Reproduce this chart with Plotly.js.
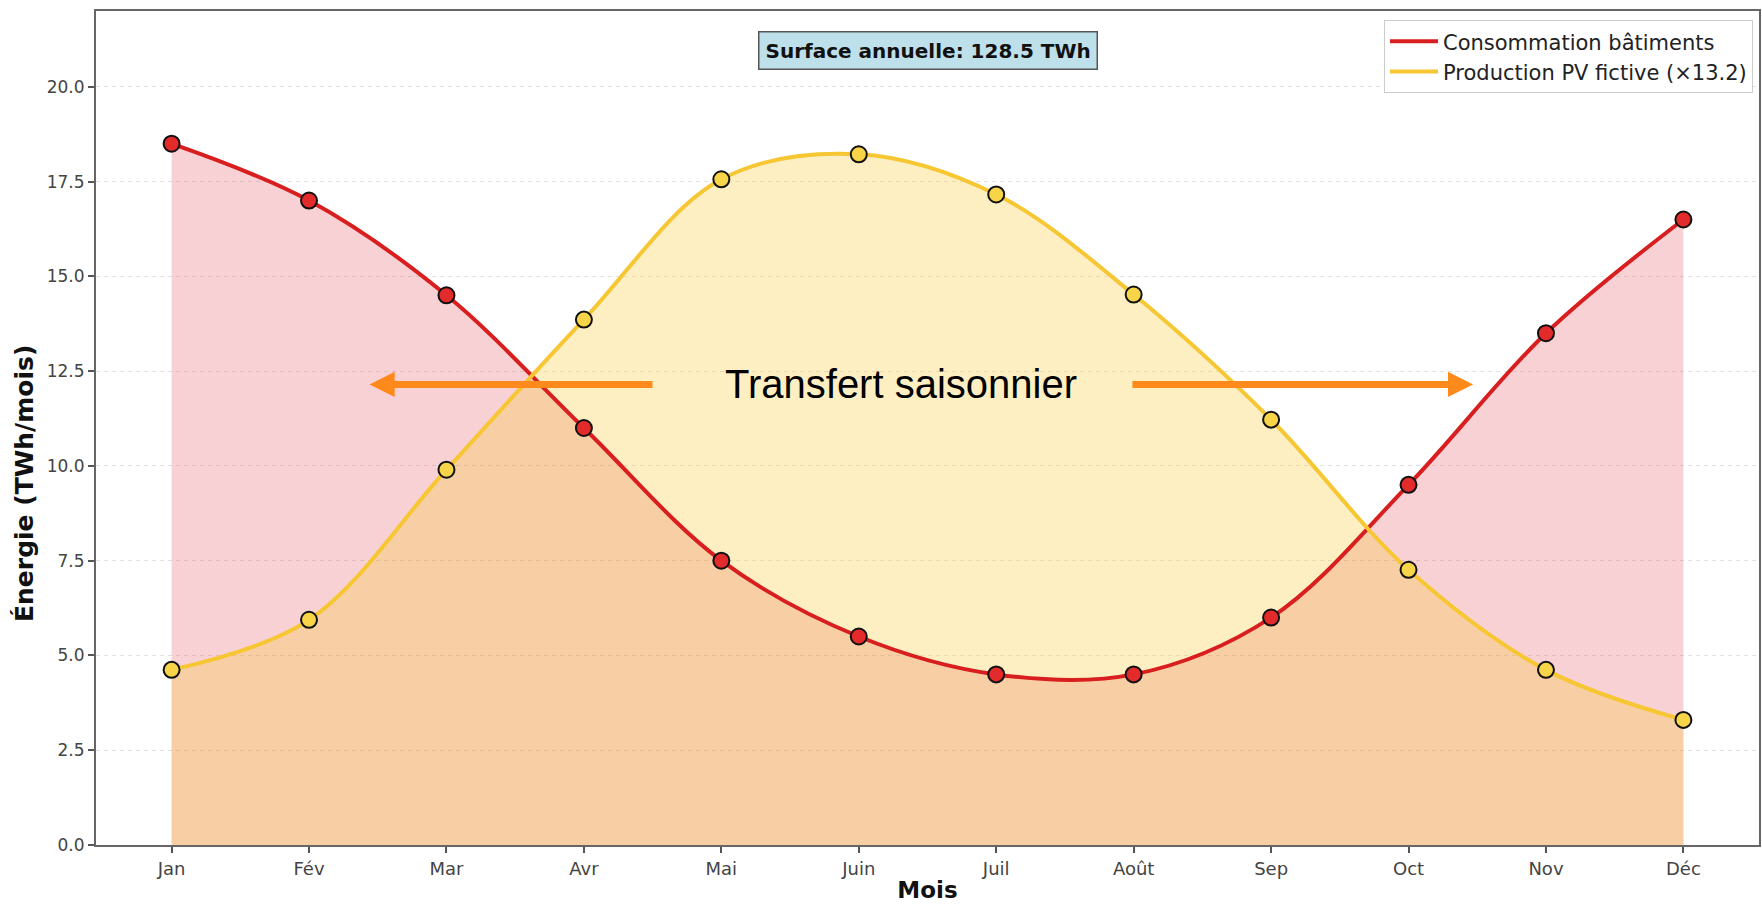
<!DOCTYPE html>
<html lang="fr">
<head>
<meta charset="utf-8">
<title>Consommation des bâtiments et production PV</title>
<script src="https://cdn.plot.ly/plotly-3.0.1.min.js"></script>
<style>
  html, body { margin: 0; padding: 0; background: #ffffff; }
  #chart { width: 1762px; height: 905px; }
</style>
</head>
<body>
<div id="chart"></div>
<script>
// Mois de l'année
const months = ["Jan", "Fév", "Mar", "Avr", "Mai", "Juin", "Juil", "Août", "Sep", "Oct", "Nov", "Déc"];

// Consommation mensuelle des bâtiments (TWh/mois)
const consumption = [18.5, 17.0, 14.5, 11.0, 7.5, 5.5, 4.5, 4.5, 6.0, 9.5, 13.5, 16.5];

// Production PV fictive, mise à l'échelle (×13.2) (TWh/mois)
const pvScaled = [4.62, 5.94, 9.90, 13.86, 17.56, 18.22, 17.16, 14.52, 11.22, 7.26, 4.62, 3.30];

// Libellés
const consumptionName = "Consommation bâtiments";
const pvName = "Production PV fictive (×13.2)";
const annualText = "Surface annuelle: 128.5 TWh";
const transferText = "Transfert saisonnier";
const xTitle = "Mois";
const yTitle = "Énergie (TWh/mois)";

// Flèches du transfert saisonnier : [queue, pointe] sur l'axe des mois, à hauteur fixe
const arrowLeft = [3.51, 1.44];
const arrowRight = [6.98, 9.47];
const arrowLevel = 12.15;
const transferPos = [5.31, 12.15];

const RED = "#d81e1e";
const RED_MARK = "#e32b2b";
const GOLD = "#f6c633";
const GOLD_MARK = "#f8d548";

const xs = months.map((_, i) => i);

const traces = [
  // zones remplies sous les courbes
  {
    x: xs, y: consumption, type: "scatter", mode: "lines",
    line: { shape: "spline", smoothing: 1.0, width: 0, color: "rgba(0,0,0,0)" },
    fill: "tozeroy", fillcolor: "rgba(220,40,55,0.21)",
    showlegend: false, hoverinfo: "skip"
  },
  {
    x: xs, y: pvScaled, type: "scatter", mode: "lines",
    line: { shape: "spline", smoothing: 1.0, width: 0, color: "rgba(0,0,0,0)" },
    fill: "tozeroy", fillcolor: "rgba(248,200,45,0.29)",
    showlegend: false, hoverinfo: "skip"
  },
  // courbes
  {
    x: xs, y: consumption, type: "scatter", mode: "lines", name: consumptionName,
    line: { shape: "spline", smoothing: 1.0, width: 4, color: RED }
  },
  {
    x: xs, y: pvScaled, type: "scatter", mode: "lines", name: pvName,
    line: { shape: "spline", smoothing: 1.0, width: 4, color: GOLD }
  },
  // points mensuels
  {
    x: xs, y: consumption, type: "scatter", mode: "markers", showlegend: false,
    marker: { size: 16, color: RED_MARK, line: { color: "#111111", width: 2 } }
  },
  {
    x: xs, y: pvScaled, type: "scatter", mode: "markers", showlegend: false,
    marker: { size: 16, color: GOLD_MARK, line: { color: "#111111", width: 2 } }
  }
];

function arrow(pair) {
  return {
    x: pair[1], y: arrowLevel, ax: pair[0], ay: arrowLevel,
    xref: "x", yref: "y", axref: "x", ayref: "y",
    text: "", showarrow: true,
    arrowhead: 2, arrowsize: 0.72, arrowwidth: 7, arrowcolor: "#ff8a1c"
  };
}

const layout = {
  width: 1762, height: 905,
  margin: { l: 96, r: 3, t: 11, b: 60 },
  paper_bgcolor: "#ffffff",
  plot_bgcolor: "#ffffff",
  font: { family: "DejaVu Sans, sans-serif", color: "#333333" },
  showlegend: true,
  legend: {
    x: 0.9964, y: 0.989, xanchor: "right", yanchor: "top",
    bgcolor: "rgba(255,255,255,0.9)", bordercolor: "#cccccc", borderwidth: 1,
    font: { size: 21, color: "#222222", family: "DejaVu Sans, sans-serif" },
    itemwidth: 48, tracegroupgap: 2
  },
  xaxis: {
    range: [-0.55, 11.55],
    tickmode: "array", tickvals: xs, ticktext: months,
    tickfont: { size: 18, color: "#444444" },
    ticks: "outside", ticklen: 6, tickwidth: 1.5, tickcolor: "#555555",
    showgrid: false, zeroline: false,
    showline: true, mirror: true, linecolor: "#666666", linewidth: 2,
    title: { text: "<b>" + xTitle + "</b>", font: { size: 23, color: "#111111" }, standoff: 4 },
    automargin: false
  },
  yaxis: {
    range: [0, 22],
    tick0: 0, dtick: 2.5, tickformat: ".1f",
    tickfont: { size: 17, color: "#444444" },
    ticks: "outside", ticklen: 6, tickwidth: 1.5, tickcolor: "#555555",
    showgrid: true, gridcolor: "#e2e2e2", gridwidth: 1, griddash: "4px,4px",
    zeroline: false,
    showline: true, mirror: true, linecolor: "#666666", linewidth: 2,
    automargin: false
  },
  annotations: [
    {
      // titre de l'axe vertical
      x: -0.0426, y: 0.433, xref: "paper", yref: "paper",
      xanchor: "center", yanchor: "middle", textangle: -90,
      text: "<b>" + yTitle + "</b>", showarrow: false,
      font: { size: 25, color: "#111111", family: "DejaVu Sans, sans-serif" }
    },
    {
      x: 0.5, y: 0.9525, xref: "paper", yref: "paper",
      xanchor: "center", yanchor: "middle",
      text: "<b>" + annualText + "</b>", showarrow: false,
      font: { size: 20, color: "#111111", family: "DejaVu Sans, sans-serif" },
      bgcolor: "rgba(173,216,230,0.8)", bordercolor: "#555555", borderwidth: 1.5, borderpad: 6
    },
    {
      x: transferPos[0], y: transferPos[1], xref: "x", yref: "y",
      xanchor: "center", yanchor: "middle",
      text: transferText, showarrow: false,
      font: { size: 40, color: "#000000", family: "Liberation Sans, Arial, sans-serif" }
    },
    arrow(arrowLeft),
    arrow(arrowRight)
  ]
};

Plotly.newPlot("chart", traces, layout, { displayModeBar: false, responsive: false });
</script>
</body>
</html>
